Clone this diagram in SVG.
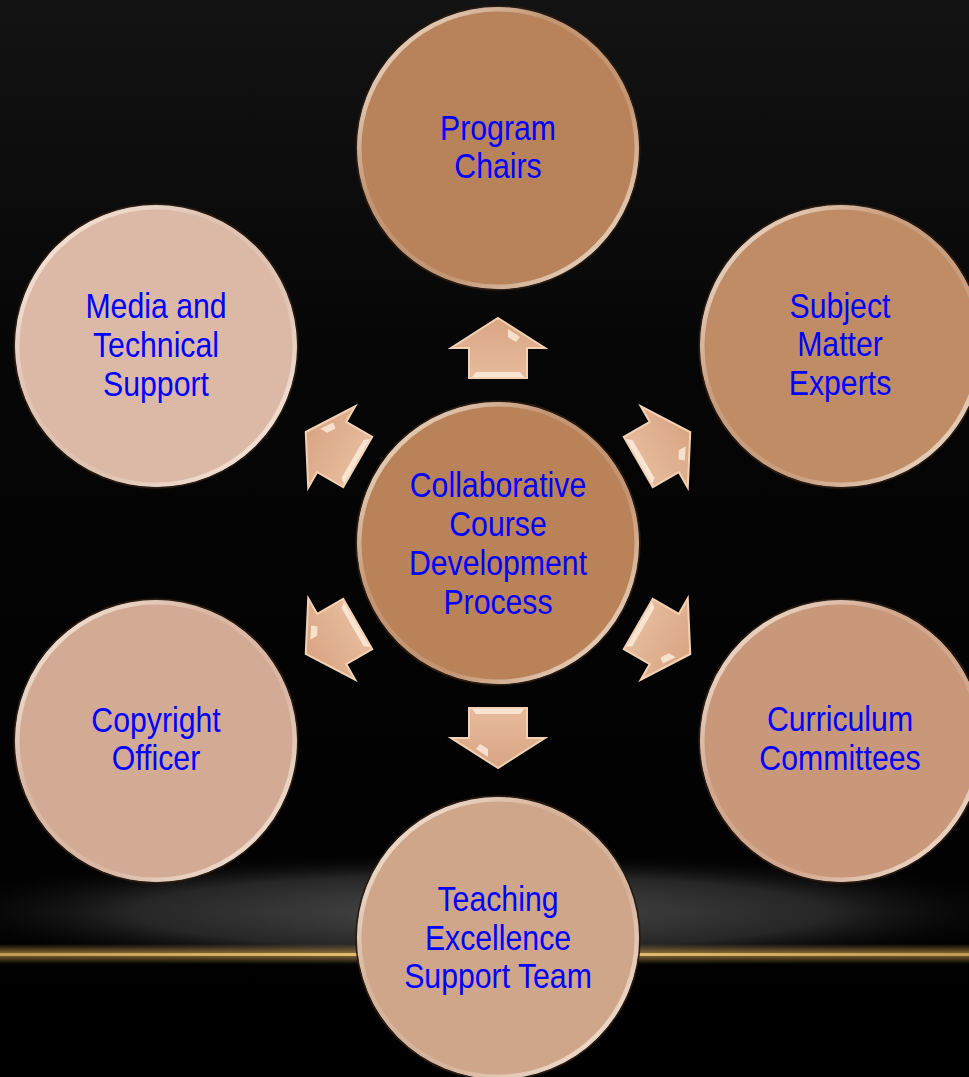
<svg xmlns="http://www.w3.org/2000/svg" width="969" height="1077" viewBox="0 0 969 1077">
<defs>
<style>
.lbl{font-family:"Liberation Sans",Arial,sans-serif;font-size:36px;fill:#0000FF;text-anchor:middle}
.rim{fill:none;stroke:url(#rimG);stroke-width:5}
.out{fill:none;stroke:#2a1a10;stroke-width:1.5}
.arrow{fill:url(#arrG);stroke:#f3d2b4;stroke-width:2;stroke-linejoin:miter}
.hl{fill:#fff3e4;opacity:0.75}
</style>
<linearGradient id="bgTop" x1="0" y1="0" x2="0" y2="1">
<stop offset="0" stop-color="#131313"/>
<stop offset="0.35" stop-color="#050505"/>
<stop offset="1" stop-color="#000"/>
</linearGradient>
<radialGradient id="glow" cx="0.5" cy="0.5" r="0.5">
<stop offset="0" stop-color="#4a4a4a"/>
<stop offset="0.6" stop-color="#262626"/>
<stop offset="1" stop-color="#000" stop-opacity="0"/>
</radialGradient>
<linearGradient id="gold" x1="0" y1="0" x2="1" y2="0">
<stop offset="0" stop-color="#c09850"/>
<stop offset="0.5" stop-color="#f0c878"/>
<stop offset="1" stop-color="#c09850"/>
</linearGradient>
<linearGradient id="goldV" x1="0" y1="0" x2="0" y2="1">
<stop offset="0" stop-color="#c89a50" stop-opacity="0"/>
<stop offset="0.5" stop-color="#c89a50" stop-opacity="0.7"/>
<stop offset="1" stop-color="#c89a50" stop-opacity="0"/>
</linearGradient>
<linearGradient id="rimG" x1="0" y1="0" x2="1" y2="1">
<stop offset="0" stop-color="#fff2e0" stop-opacity="0.9"/>
<stop offset="0.35" stop-color="#fff" stop-opacity="0.15"/>
<stop offset="0.65" stop-color="#fff" stop-opacity="0.15"/>
<stop offset="1" stop-color="#fff2e0" stop-opacity="0.9"/>
</linearGradient>
<linearGradient id="arrG" x1="0" y1="0" x2="0" y2="1">
<stop offset="0" stop-color="#d9a583"/>
<stop offset="1" stop-color="#e6bb9c"/>
</linearGradient>
<g id="arr">
<polygon class="arrow" points="0,-30 47,0 29,0 29,30 -29,30 -29,0 -47,0"/>
<polygon class="hl" points="-22,24 22,24 26,29 -26,29"/>
<polygon class="hl" points="10,-19 22,-11 18,-6 10,-11"/>
</g>
</defs>
<rect width="969" height="1077" fill="url(#bgTop)"/>
<ellipse cx="480" cy="912" rx="580" ry="62" fill="url(#glow)"/>
<rect x="0" y="944" width="969" height="20" fill="url(#goldV)"/>
<rect x="0" y="953" width="969" height="3" fill="url(#gold)"/>

<g id="connectors">
<use href="#arr" transform="translate(498,348)"/>
<use href="#arr" transform="translate(498,543) rotate(60) translate(0,-192)"/>
<use href="#arr" transform="translate(498,543) rotate(120) translate(0,-192)"/>
<use href="#arr" transform="translate(498,543) rotate(180) translate(0,-195)"/>
<use href="#arr" transform="translate(498,543) rotate(240) translate(0,-192)"/>
<use href="#arr" transform="translate(498,543) rotate(300) translate(0,-192)"/>
</g>

<g id="center">
<circle cx="498" cy="543" r="141" fill="#b98259"/>
<circle cx="498" cy="543" r="139" class="rim"/>
<circle cx="498" cy="543" r="142" class="out"/>
<text class="lbl" transform="translate(498,497) scale(0.84,1)">Collaborative</text>
<text class="lbl" transform="translate(498,536) scale(0.84,1)">Course</text>
<text class="lbl" transform="translate(498,575) scale(0.84,1)">Development</text>
<text class="lbl" transform="translate(498,614) scale(0.84,1)">Process</text>
</g>

<g id="program-chairs">
<circle cx="498" cy="148" r="141" fill="#b8835a"/>
<circle cx="498" cy="148" r="139" class="rim"/>
<circle cx="498" cy="148" r="142" class="out"/>
<text class="lbl" transform="translate(498,140) scale(0.84,1)">Program</text>
<text class="lbl" transform="translate(498,178) scale(0.84,1)">Chairs</text>
</g>

<g id="subject-matter-experts">
<circle cx="841" cy="346" r="141" fill="#bf8c66"/>
<circle cx="841" cy="346" r="139" class="rim"/>
<circle cx="841" cy="346" r="142" class="out"/>
<text class="lbl" transform="translate(840,318) scale(0.84,1)">Subject</text>
<text class="lbl" transform="translate(840,356) scale(0.84,1)">Matter</text>
<text class="lbl" transform="translate(840,395) scale(0.84,1)">Experts</text>
</g>

<g id="curriculum-committees">
<circle cx="841" cy="741" r="141" fill="#c9987a"/>
<circle cx="841" cy="741" r="139" class="rim"/>
<circle cx="841" cy="741" r="142" class="out"/>
<text class="lbl" transform="translate(840,731) scale(0.84,1)">Curriculum</text>
<text class="lbl" transform="translate(840,770) scale(0.84,1)">Committees</text>
</g>

<g id="teaching-excellence">
<circle cx="498" cy="938" r="141" fill="#cfa68a"/>
<circle cx="498" cy="938" r="139" class="rim"/>
<circle cx="498" cy="938" r="142" class="out"/>
<text class="lbl" transform="translate(498,911) scale(0.84,1)">Teaching</text>
<text class="lbl" transform="translate(498,950) scale(0.84,1)">Excellence</text>
<text class="lbl" transform="translate(498,988) scale(0.84,1)">Support Team</text>
</g>

<g id="copyright-officer">
<circle cx="156" cy="741" r="141" fill="#d3ab94"/>
<circle cx="156" cy="741" r="139" class="rim"/>
<circle cx="156" cy="741" r="142" class="out"/>
<text class="lbl" transform="translate(156,732) scale(0.84,1)">Copyright</text>
<text class="lbl" transform="translate(156,770) scale(0.84,1)">Officer</text>
</g>

<g id="media-technical-support">
<circle cx="156" cy="346" r="141" fill="#dbb9a6"/>
<circle cx="156" cy="346" r="139" class="rim"/>
<circle cx="156" cy="346" r="142" class="out"/>
<text class="lbl" transform="translate(156,318) scale(0.84,1)">Media and</text>
<text class="lbl" transform="translate(156,357) scale(0.84,1)">Technical</text>
<text class="lbl" transform="translate(156,396) scale(0.84,1)">Support</text>
</g>
</svg>
